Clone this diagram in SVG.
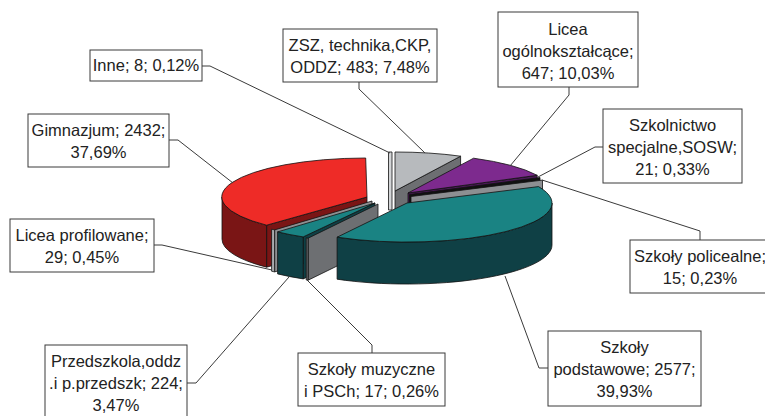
<svg xmlns="http://www.w3.org/2000/svg" width="765" height="416" viewBox="0 0 765 416">
<style>
.box{fill:#fff;stroke:#3a3a3a;stroke-width:1}
.lbl{font-family:"Liberation Sans",Arial,sans-serif;font-size:16.5px;fill:#222;text-anchor:middle}
.lead{fill:none;stroke:#3a3a3a;stroke-width:1}
.pie{stroke:#111;stroke-width:0.8;stroke-linejoin:round}
.greyT{fill:#b7babd}.greyS{fill:#6d6f72}.greyM{fill:#8d8f92}.greyL{fill:#a9abae}
.purT{fill:#7d2a8e}.purS{fill:#4b1a57}
.redT{fill:#ee2b27}.redS{fill:#7a1515}
.tealT{fill:#1a8383}.tealS{fill:#0f4045}
.blk{fill:#111}
</style>
<rect width="765" height="416" fill="#fff"/>

<g id="pie">
  <g id="slice-zsz">
    <path class="pie greyS" d="M395,191 L460.6,156.2 L460.6,198.2 L395,233 Z"/>
    <path class="pie greyT" d="M395,191 L395,152 A145,39 0 0 1 460.6,156.2 Z"/>
  </g>
  <g id="slice-inne">
    <rect class="pie" x="388.5" y="152" width="3.5" height="58" fill="#d3d5d7"/>
  </g>
  <g id="slice-licea-ogolne">
    <path class="pie purS" d="M408,193 L537.2,175.3 L537.2,217.3 L408,235 Z"/>
    <path class="pie purT" d="M408,193 L473.6,158.2 A145,39 0 0 1 537.2,175.3 Z"/>
  </g>
  <g id="slice-specjalne">
    <path class="pie blk" d="M409.5,194.5 L540,177.5 L540,219.5 L409.5,236.5 Z"/>
  </g>
  <g id="slice-policealne">
    <path class="pie greyM" d="M411,196.5 L542.5,180.1 L542.5,222.1 L411,238.5 Z"/>
  </g>
  <g id="slice-gimnazjum">
    <path class="pie redS" d="M367,197 L266.6,225.2 L266.6,267.2 L367,239 Z"/>
    <path class="pie redS" d="M222,197 L222,239 A145,39 0 0 0 266.6,267.2 L266.6,225.2 A145,39 0 0 1 222,197 Z"/>
    <path class="pie redT" d="M367,197 L266.6,225.2 A145,39 0 0 1 365.7,158 Z"/>
  </g>
  <g id="slice-licea-profilowane">
    <path class="pie greyM" d="M372,201 L274.6,229.9 L274.6,271.9 L372,243 Z"/>
    <path class="pie greyL" d="M274.6,229.9 A145,39 0 0 1 271.6,229.2 L271.6,271.2 A145,39 0 0 0 274.6,271.9 Z"/>
  </g>
  <g id="slice-przedszkola">
    <path class="pie tealS" d="M375,203 L303.2,236.9 L303.2,278.9 L375,245 Z"/>
    <path class="pie tealS" d="M303.2,236.9 A145,39 0 0 1 277.6,231.9 L277.6,273.9 A145,39 0 0 0 303.2,278.9 Z"/>
    <path class="pie tealT" d="M375,203 L303.2,236.9 A145,39 0 0 1 277.6,231.9 Z"/>
  </g>
  <g id="slice-muzyczne">
    <path class="pie greyS" d="M378,204 L308.1,238.2 L308.1,280.2 L378,246 Z"/>
    <path class="pie greyS" d="M308.1,238.2 A145,39 0 0 1 306.2,237.9 L306.2,279.9 A145,39 0 0 0 308.1,280.2 Z"/>
  </g>
  <g id="slice-podstawowe">
    <path class="pie tealS" d="M552,203 A145,39 0 0 1 337.1,237.2 L337.1,279.2 A145,39 0 0 0 552,245 Z"/>
    <path class="pie tealT" d="M407,203 L538.5,186.6 A145,39 0 0 1 337.1,237.2 Z"/>
  </g>
</g>

<g id="connectors">
  <polyline class="lead" points="202,66 210,66 390,153"/>
  <polyline class="lead" points="359,82 359,89 425,153"/>
  <polyline class="lead" points="569,87 569,95 510,166"/>
  <polyline class="lead" points="603,147 595,147 538,177"/>
  <polyline class="lead" points="700,240 700,231 542,180"/>
  <polyline class="lead" points="548,368 539,368 505,276"/>
  <polyline class="lead" points="372,353 372,345 307,280"/>
  <polyline class="lead" points="187,383 196,383 289,277"/>
  <polyline class="lead" points="154,245 162,245 272,270"/>
  <polyline class="lead" points="169,140 178,140 233,183"/>
</g>

<g id="label-inne">
  <rect class="box" x="90" y="50" width="112" height="31"/>
  <text class="lbl" x="146" y="71">Inne; 8; 0,12%</text>
</g>
<g id="label-zsz">
  <rect class="box" x="283" y="29" width="154" height="53"/>
  <text class="lbl" x="360" y="51">ZSZ, technika,CKP,</text>
  <text class="lbl" x="360" y="73">ODDZ; 483; 7,48%</text>
</g>
<g id="label-licea-ogolne">
  <rect class="box" x="498" y="12" width="140" height="75"/>
  <text class="lbl" x="568" y="35">Licea</text>
  <text class="lbl" x="568" y="57">ogólnokształcące;</text>
  <text class="lbl" x="568" y="79">647; 10,03%</text>
</g>
<g id="label-specjalne">
  <rect class="box" x="603" y="109" width="139" height="74"/>
  <text class="lbl" x="672.5" y="131">Szkolnictwo</text>
  <text class="lbl" x="672.5" y="153">specjalne,SOSW;</text>
  <text class="lbl" x="672.5" y="175">21; 0,33%</text>
</g>
<g id="label-policealne">
  <rect class="box" x="630" y="240" width="140" height="53"/>
  <text class="lbl" x="700" y="262">Szkoły policealne;</text>
  <text class="lbl" x="700" y="284">15; 0,23%</text>
</g>
<g id="label-podstawowe">
  <rect class="box" x="548" y="331" width="153" height="75"/>
  <text class="lbl" x="624.5" y="353">Szkoły</text>
  <text class="lbl" x="624.5" y="375">podstawowe; 2577;</text>
  <text class="lbl" x="624.5" y="397">39,93%</text>
</g>
<g id="label-muzyczne">
  <rect class="box" x="298" y="353" width="147" height="53"/>
  <text class="lbl" x="371.5" y="375">Szkoły muzyczne</text>
  <text class="lbl" x="371.5" y="397">i PSCh; 17; 0,26%</text>
</g>
<g id="label-przedszkola">
  <rect class="box" x="45" y="345" width="142" height="80"/>
  <text class="lbl" x="116" y="367">Przedszkola,oddz</text>
  <text class="lbl" x="116" y="389">.i p.przedszk; 224;</text>
  <text class="lbl" x="116" y="411">3,47%</text>
</g>
<g id="label-profilowane">
  <rect class="box" x="10" y="219" width="144" height="53"/>
  <text class="lbl" x="82" y="241">Licea profilowane;</text>
  <text class="lbl" x="82" y="263">29; 0,45%</text>
</g>
<g id="label-gimnazjum">
  <rect class="box" x="28" y="114" width="141" height="53"/>
  <text class="lbl" x="98.5" y="136">Gimnazjum; 2432;</text>
  <text class="lbl" x="98.5" y="158">37,69%</text>
</g>
</svg>
